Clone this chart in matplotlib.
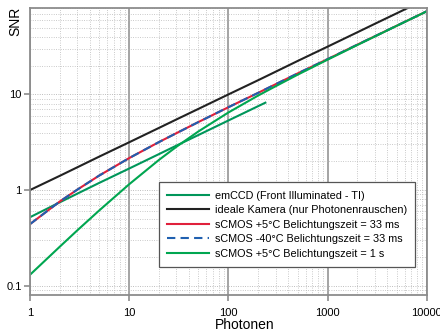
import matplotlib
matplotlib.use('Agg')
import matplotlib.pyplot as plt
from matplotlib.ticker import LogLocator, FixedLocator, NullFormatter

plt.rcParams['font.family'] = ['Liberation Sans', 'DejaVu Sans']

# ------------------ Data ------------------
photons = [1, 2, 3, 5, 10, 20, 30, 50, 100, 200, 300, 500, 1000, 2000, 3000, 5000, 10000]
snr_ideal = [1.0, 1.41, 1.73, 2.24, 3.16, 4.47, 5.48, 7.07, 10.0, 14.1, 17.3, 22.4, 31.6, 44.7, 54.8, 70.7, 100.0]
snr_scmos_5c_33ms = [0.44, 0.76, 1.01, 1.42, 2.16, 3.18, 3.94, 5.15, 7.35, 10.4, 12.8, 16.6, 23.4, 33.2, 40.6, 52.4, 74.1]
snr_scmos_m40c_33ms = [0.44, 0.76, 1.01, 1.42, 2.16, 3.18, 3.94, 5.15, 7.35, 10.4, 12.8, 16.6, 23.4, 33.2, 40.6, 52.4, 74.1]
snr_scmos_5c_1s = [0.13, 0.256, 0.379, 0.613, 1.15, 2.07, 2.84, 4.11, 6.47, 9.75, 12.2, 16.1, 23.1, 32.9, 40.4, 52.3, 74.0]

photons_emccd = [1, 2, 3, 5, 10, 20, 30, 50, 100, 200, 236]
snr_emccd = [0.52, 0.745, 0.917, 1.19, 1.68, 2.38, 2.92, 3.77, 5.34, 7.55, 8.2]

labels = ['emCCD (Front Illuminated - TI)',
          'ideale Kamera (nur Photonenrauschen)',
          'sCMOS +5°C Belichtungszeit = 33 ms',
          'sCMOS -40°C Belichtungszeit = 33 ms',
          'sCMOS +5°C Belichtungszeit = 1 s']
x_ticks = [1, 10, 100, 1000, 10000]
x_tick_labels = ['1', '10', '100', '1000', '10000']
y_ticks = [0.1, 1, 10]
y_tick_labels = ['0.1', '1', '10']

# ------------------ Figure ------------------
fig = plt.figure(figsize=(4.4, 3.36), dpi=100)
ax = fig.add_axes([0.068, 0.122, 0.902, 0.854])
ax.set_xscale('log')
ax.set_yscale('log')
ax.set_xlim(1, 10000)
ax.set_ylim(0.08, 80)

grid_gray = '#8c8c8c'
# dotted minor grid, dotted horizontal majors, solid vertical majors
ax.xaxis.set_minor_locator(LogLocator(base=10, subs=range(2, 10)))
ax.yaxis.set_minor_locator(LogLocator(base=10, subs=range(2, 10)))
ax.xaxis.set_minor_formatter(NullFormatter())
ax.yaxis.set_minor_formatter(NullFormatter())
ax.grid(True, which='minor', linestyle=(0, (1, 1.8)), color='#b8b8b8', linewidth=0.6)
ax.grid(True, which='major', axis='y', linestyle=(0, (1, 1.8)), color='#a8a8a8', linewidth=0.6)
ax.grid(True, which='major', axis='x', linestyle='-', color=grid_gray, linewidth=1.1)
ax.tick_params(which='minor', length=0)
ax.set_axisbelow(True)

ax.xaxis.set_major_locator(FixedLocator(x_ticks))
ax.yaxis.set_major_locator(FixedLocator(y_ticks))
ax.set_xticklabels(x_tick_labels)
ax.set_yticklabels(y_tick_labels)
ax.tick_params(which='major', length=4, width=1.2, color=grid_gray, labelsize=8)
ax.tick_params(axis='x', pad=5)
ax.tick_params(axis='y', pad=2)

for side in ['left', 'right', 'top', 'bottom']:
    ax.spines[side].set_color(grid_gray)
    ax.spines[side].set_linewidth(1.3)

# ------------------ Lines ------------------
green_dark = '#00965a'
green = '#00a650'
l_emccd, = ax.plot(photons_emccd, snr_emccd, color=green_dark, lw=1.5)
l_ideal, = ax.plot(photons, snr_ideal, color='#222222', lw=1.5)
l_red, = ax.plot(photons, snr_scmos_5c_33ms, color='#e0203c', lw=1.5)
l_blue, = ax.plot(photons, snr_scmos_m40c_33ms, color='#2060b0', lw=1.5,
                  linestyle=(0, (4, 2.5)))
l_1s, = ax.plot(photons, snr_scmos_5c_1s, color=green, lw=1.5)

leg = ax.legend([l_emccd, l_ideal, l_red, l_blue, l_1s], labels,
                loc='lower right', bbox_to_anchor=(0.97, 0.098), borderaxespad=0,
                fontsize=7.8, frameon=True, fancybox=False, handlelength=3.9,
                handletextpad=0.5, labelspacing=0.42, borderpad=0.75)
leg.get_frame().set_edgecolor('#555555')
leg.get_frame().set_linewidth(0.9)
leg.get_frame().set_alpha(1)

# ------------------ Labels ------------------
fig.text(0.034, 0.937, 'SNR', rotation=90, fontsize=10, ha='center', va='center')
fig.text(0.556, 0.033, 'Photonen', fontsize=10, ha='center', va='center')

fig.savefig('out.png', dpi=100)
